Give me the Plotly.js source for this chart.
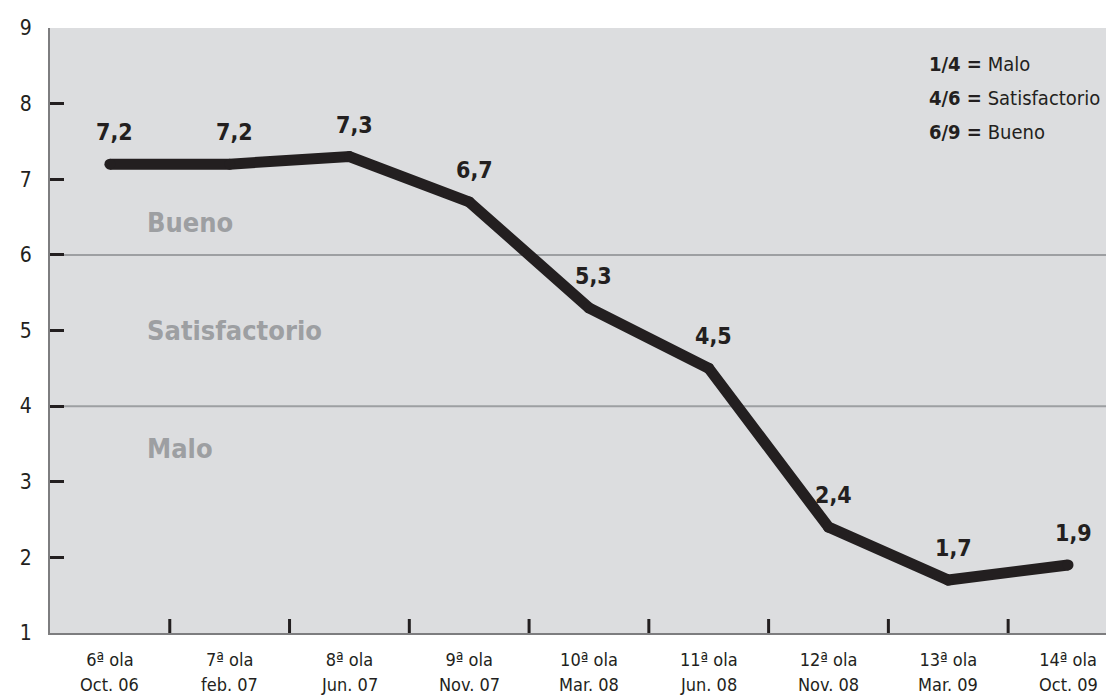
<!DOCTYPE html>
<html>
<head>
<meta charset="utf-8">
<script src="https://cdn.plot.ly/plotly-3.0.1.min.js"></script>
<style>
html,body{margin:0;padding:0;background:#fff;}
#chart{width:1106px;height:700px;}
</style>
</head>
<body>
<div id="chart"></div>
<script>
const waves = ["6ª ola","7ª ola","8ª ola","9ª ola","10ª ola","11ª ola","12ª ola","13ª ola","14ª ola"];
const dates = ["Oct. 06","feb. 07","Jun. 07","Nov. 07","Mar. 08","Jun. 08","Nov. 08","Mar. 09","Oct. 09"];
const values = [7.2, 7.2, 7.3, 6.7, 5.3, 4.5, 2.4, 1.7, 1.9];
const yTicks = [1,2,3,4,5,6,7,8,9];
const zoneLines = [4, 6];
const zoneLabels = ["Bueno","Satisfactorio","Malo"];
const zoneLabelY = [6.43, 5.0, 3.44];
const legendKeys = ["1/4 =","4/6 =","6/9 ="];
const legendNames = ["Malo","Satisfactorio","Bueno"];

const FONT = "'Liberation Sans Narrow','DejaVu Sans Condensed','Roboto',sans-serif";
const xIdx = waves.map((c,i)=>i);

const trace = {
  x: xIdx, y: values, type: 'scatter', mode: 'lines+markers',
  line: {color: '#231f20', width: 11},
  marker: {color: '#231f20', size: 11},
  hoverinfo: 'skip', showlegend: false
};

const annotations = [];
values.forEach((v,i)=>{
  annotations.push({x: i, y: v, xref: 'x', yref: 'y', text: '<b>' + v.toFixed(1).replace('.', ',') + '</b>',
    showarrow: false, yshift: 32, xshift: 5, font: {family: FONT, size: 23, color: '#231f20'}});
});
dates.forEach((d,i)=>{
  annotations.push({x: i, y: 0, xref: 'x', yref: 'paper', yanchor: 'middle', yshift: -51, text: d,
    showarrow: false, font: {family: FONT, size: 18, color: '#231f20'}});
});
zoneLabels.forEach((t,i)=>{
  annotations.push({x: 0.29, y: zoneLabelY[i], xref: 'x', yref: 'y', xanchor: 'left', text: '<b>' + t + '</b>',
    showarrow: false, font: {family: FONT, size: 27, color: '#9d9fa2'}});
});
legendKeys.forEach((k,i)=>{
  annotations.push({x: 927, y: 64 + i*34, xref: 'paper', yref: 'paper', xanchor: 'left', yanchor: 'middle',
    text: '<b>' + k + '</b> ' + legendNames[i], showarrow: false, align: 'left',
    font: {family: FONT, size: 20, color: '#231f20'}});
});
// convert legend pixel positions to paper fraction
annotations.forEach(a=>{
  if (a.xref === 'paper') {
    a.x = (a.x - 50) / (1106 - 50);
    a.y = 1 - (a.y - 28) / (633 - 28);
  }
});

const shapes = zoneLines.map(v=>({type: 'line', xref: 'paper', yref: 'y', x0: 0, x1: 1, y0: v, y1: v,
  line: {color: '#9d9fa2', width: 2}, layer: 'below'}));

const layout = {
  width: 1106, height: 700,
  margin: {l: 50, r: 0, t: 28, b: 67},
  paper_bgcolor: '#ffffff', plot_bgcolor: '#dcdddf',
  showlegend: false,
  xaxis: {
    range: [-0.5, 8.317], tickmode: 'array', tickvals: xIdx, ticktext: waves,
    showgrid: false, zeroline: false, showline: true, linecolor: '#7d7d7f', linewidth: 2,
    ticks: '', ticklabelstandoff: 9, tickfont: {family: FONT, size: 18, color: '#231f20'}, fixedrange: true
  },
  yaxis: {
    range: [1, 9], tickmode: 'array', tickvals: yTicks, ticktext: yTicks.map(String),
    showgrid: false, zeroline: false, showline: true, linecolor: '#7d7d7f', linewidth: 2,
    ticks: 'inside', ticklen: 14, tickwidth: 3, tickcolor: '#231f20',
    tickfont: {family: FONT, size: 21, color: '#231f20'}, ticklabelstandoff: 12, fixedrange: true
  },
  shapes: shapes,
  annotations: annotations
};
// boundary tick marks between categories
for (let i = 0; i < waves.length - 1; i++) {
  layout.shapes.push({type: 'line', xref: 'x', yref: 'paper', x0: i + 0.5, x1: i + 0.5, y0: 0, y1: 14/605,
    line: {color: '#231f20', width: 3}});
}

Plotly.newPlot('chart', [trace], layout, {displayModeBar: false, staticPlot: true});
</script>
</body>
</html>
